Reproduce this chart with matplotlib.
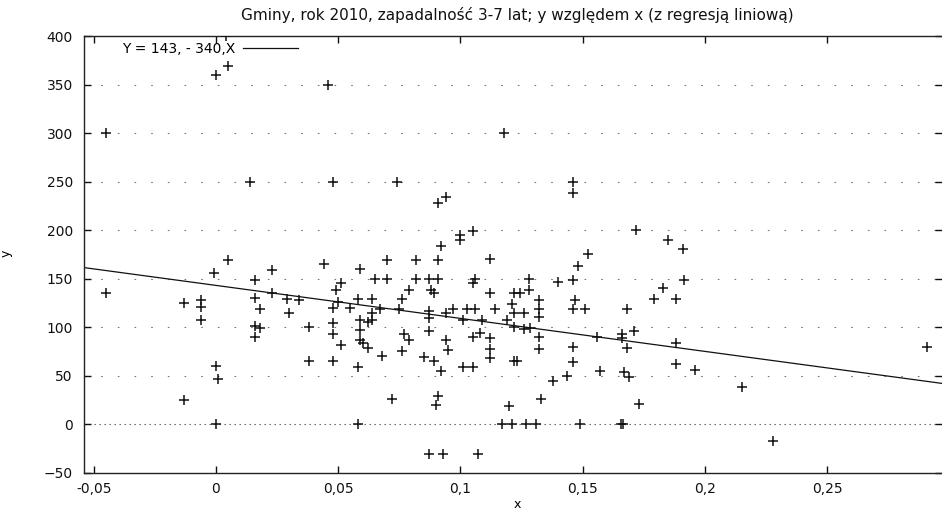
import numpy as np
import matplotlib
matplotlib.use('Agg')
import matplotlib.pyplot as plt

# punkty (x, y)
x = [-0.045, -0.045, -0.013, -0.013, -0.006, -0.006, -0.006, -0.001, 0.0, 0.0,
     0.0, 0.001, 0.004, 0.005, 0.005, 0.014, 0.016, 0.016, 0.016, 0.016,
     0.018, 0.018, 0.023, 0.023, 0.029, 0.030, 0.034, 0.038, 0.038, 0.044,
     0.046, 0.048, 0.048, 0.048, 0.048, 0.048, 0.049, 0.051, 0.050, 0.051,
     0.055, 0.058, 0.058, 0.058, 0.059, 0.059, 0.059, 0.059, 0.060, 0.062,
     0.062, 0.064, 0.064, 0.064, 0.065, 0.067, 0.068, 0.070, 0.070, 0.072,
     0.074, 0.075, 0.076, 0.076, 0.077, 0.079, 0.079, 0.082, 0.082, 0.085,
     0.087, 0.087, 0.087, 0.087, 0.087, 0.088, 0.089, 0.089, 0.090, 0.091,
     0.091, 0.091, 0.091, 0.092, 0.092, 0.093, 0.094, 0.094, 0.094, 0.095,
     0.097, 0.100, 0.100, 0.101, 0.101, 0.1025, 0.105, 0.105, 0.105, 0.105,
     0.106, 0.106, 0.107, 0.108, 0.109, 0.112, 0.112, 0.112, 0.112, 0.112,
     0.114, 0.117, 0.118, 0.119, 0.120, 0.121, 0.121, 0.122, 0.122, 0.122,
     0.122, 0.123, 0.1245, 0.126, 0.126, 0.127, 0.128, 0.128, 0.1285, 0.131,
     0.132, 0.132, 0.132, 0.132, 0.132, 0.133, 0.138, 0.140, 0.1435, 0.146,
     0.146, 0.146, 0.146, 0.146, 0.146, 0.147, 0.148, 0.149, 0.151, 0.152,
     0.156, 0.157, 0.1655, 0.1666, 0.166, 0.166, 0.167, 0.168, 0.168, 0.169,
     0.171, 0.172, 0.173, 0.179, 0.183, 0.185, 0.188, 0.188, 0.188, 0.191,
     0.1915, 0.196, 0.215, 0.228, 0.291]
y = [300, 135, 125, 25, 128, 121, 107, 156, 360, 60,
     0, 47, 400, 369, 169, 250, 149, 130, 101, 90,
     119, 99, 159, 135, 129, 115, 128, 100, 65, 165,
     350, 250, 120, 104, 93, 65, 138, 145, 126, 82,
     120, 129, 59, 0, 160, 107, 97, 87, 84, 79,
     105, 129, 115, 107, 150, 119, 70, 169, 150, 26,
     250, 119, 129, 75, 93, 138, 87, 169, 150, 69,
     150, 117, 109, 96, -31, 138, 135, 65, 20, 169,
     150, 228, 29, 184, 55, -31, 234, 115, 87, 76,
     119, 195, 190, 107, 59, 119, 199, 145, 59, 90,
     150, 119, -31, 94, 107, 170, 135, 89, 77, 68,
     119, 0, 300, 107, 19, 124, 0, 135, 115, 100,
     65, 65, 135, 115, 98, 0, 150, 138, 99, 0,
     128, 119, 110, 90, 77, 26, 44, 146, 50, 250,
     238, 149, 119, 80, 64, 128, 163, 0, 119, 175,
     90, 55, 0, 0, 93, 89, 54, 119, 79, 49,
     96, 200, 21, 129, 140, 190, 129, 84, 62, 180,
     149, 56, 38, -17, 80]

# regresja liniowa
wyraz_wolny = 143
wspolczynnik = -340

x_ticks = [-0.05, 0, 0.05, 0.1, 0.15, 0.2, 0.25]
x_tick_labels = ['-0,05', '0', '0,05', '0,1', '0,15', '0,2', '0,25']
y_ticks = [-50, 0, 50, 100, 150, 200, 250, 300, 350, 400]

x_min, x_max = -0.054, 0.297
y_min, y_max = -50, 400

plt.rcParams['font.family'] = ['DejaVu Sans']

fig = plt.figure(figsize=(9.42, 5.12), dpi=100)
ax = fig.add_axes([84/942, 39.3/512, 858/942, 436.7/512])

# siatka pozioma i oś zero
for t in y_ticks[2:-1]:
    ax.axhline(t, color='#777777', lw=0.8, linestyle=(0, (1.5, 13.5)), zorder=1)
ax.axhline(0, color='#555555', lw=0.8, linestyle=(0, (1.2, 3.3)), zorder=1)

ax.plot(x, y, linestyle='none', marker='+', markersize=7.5, mew=1.1,
        color='#111111', zorder=3)

xx = np.array([x_min, x_max])
ax.plot(xx, wyraz_wolny + wspolczynnik * xx, color='#111111', lw=0.9,
        label='Y = 143, - 340,X', zorder=2)

ax.set_xlim(x_min, x_max)
ax.set_ylim(y_min, y_max)
ax.set_xticks(x_ticks)
ax.set_xticklabels(x_tick_labels)
ax.set_yticks(y_ticks)

ax.tick_params(axis='both', direction='in', length=5, width=1,
               labelsize=10, colors='#111111')
ax.tick_params(axis='x', top=True, pad=7)
ax.tick_params(axis='y', right=True, pad=8)

for s in ['left', 'bottom', 'top']:
    ax.spines[s].set_linewidth(1)
    ax.spines[s].set_color('#222222')
ax.spines['right'].set_visible(False)

ax.legend(loc='upper left', bbox_to_anchor=(0.044, 0.986), frameon=False,
          markerfirst=False, fontsize=10, borderpad=0, borderaxespad=0,
          handlelength=3.9, handletextpad=0.6)

ax.set_xlabel('x', fontsize=9)
ax.set_ylabel('y', fontsize=9)
ax.xaxis.set_label_coords(0.505, -0.058)
ax.yaxis.set_label_coords(-0.083, 0.503)

fig.text(517/942, 1 - 15/512,
         'Gminy, rok 2010, zapadalność 3-7 lat; y względem x (z regresją liniową)',
         ha='center', va='center', fontsize=11, color='#111111')

fig.savefig('out.png', dpi=100)
